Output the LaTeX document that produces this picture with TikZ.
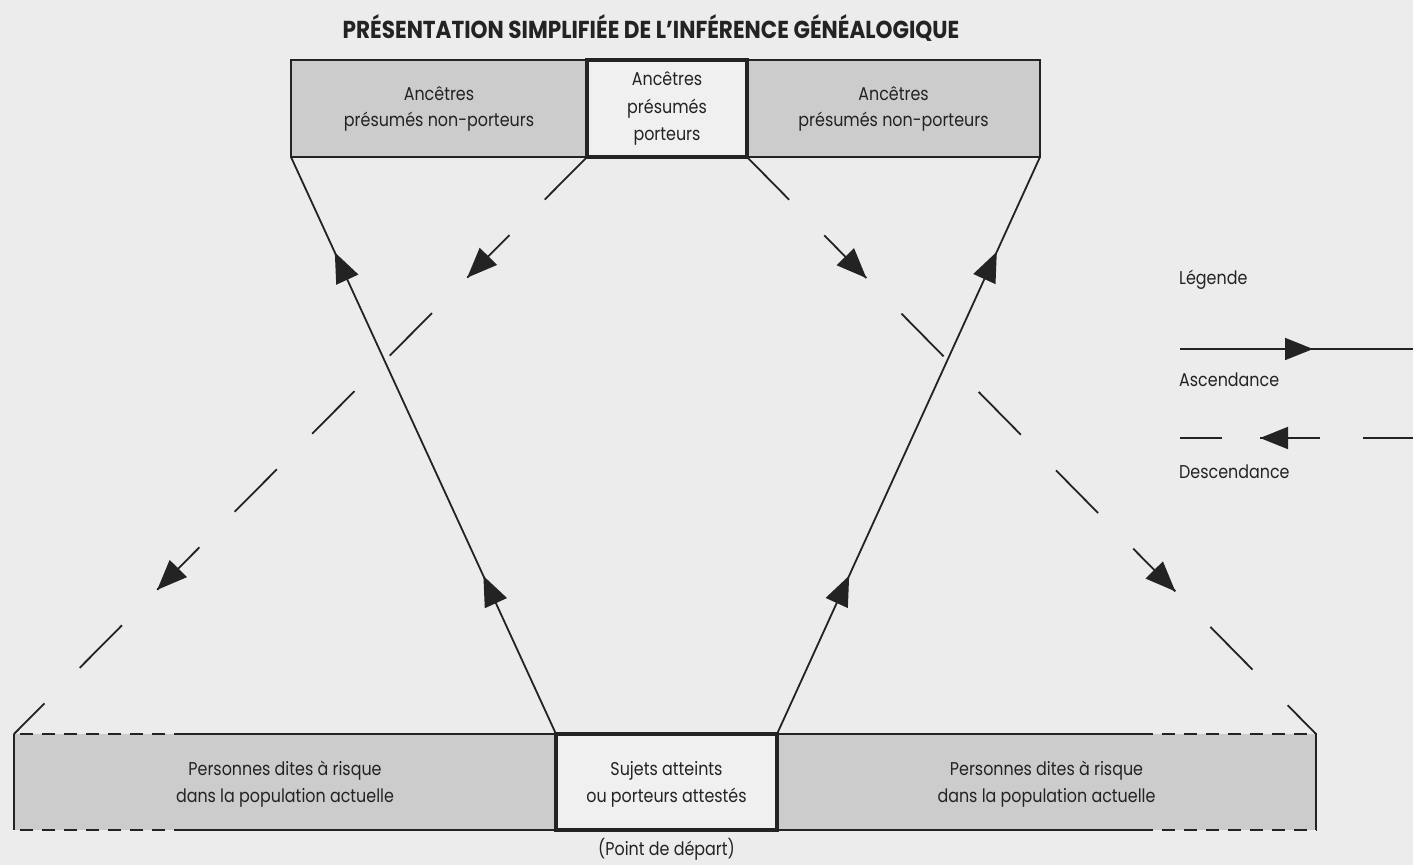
\documentclass[tikz,border=0pt]{standalone}
\usepackage{fontspec}
\setmainfont{Poppins}[FakeStretch=0.86]
\newfontfamily\titlefont{Poppins}[FakeStretch=0.88]
\usetikzlibrary{arrows.meta,decorations.markings,calc}
\definecolor{paper}{RGB}{236,236,236}
\definecolor{boxgray}{RGB}{204,204,204}
\definecolor{boxlight}{RGB}{240,240,240}
\definecolor{ink}{RGB}{35,35,35}
\tikzset{
  txt/.style={font=\fontsize{18.5}{26}\selectfont, text=ink, align=center, inner sep=0pt},
  graybox/.style={fill=boxgray, draw=none, outer sep=0pt, inner sep=0pt},
  keybox/.style={fill=boxlight, draw=ink, line width=3.5pt, outer sep=0pt, inner sep=0pt},
  edge/.style={draw=ink, line width=1.8pt},
  ascend/.style={edge, postaction={decorate}, decoration={markings,
     mark=at position 174pt with {\arrow{Triangle[length=30pt,width=24pt]}},
     mark=at position 530pt with {\arrow{Triangle[length=30pt,width=24pt]}}}},
  descend/.style={edge, dash pattern=on 60pt off 50pt, postaction={decorate, solid}, decoration={markings,
     mark=at position 170pt with {\arrow{Triangle[length=30pt,width=24pt]}},
     mark=at position 610pt with {\arrow{Triangle[length=30pt,width=24pt]}}}},
  boxdash/.style={edge, dash pattern=on 13pt off 9pt},
}
\begin{document}
\begin{tikzpicture}[x=1pt,y=-1pt]
\fill[paper] (0,0) rectangle (1413,865);
\useasboundingbox (0,0) rectangle (1413,865);

% title
\node[txt, font=\titlefont\fontsize{24.5}{28}\selectfont\bfseries] (title) at (651,28) {PRÉSENTATION SIMPLIFIÉE DE L’INFÉRENCE GÉNÉALOGIQUE};

% top row
\node[graybox, minimum width=296pt, minimum height=97pt] (tl) at (439,108.5) {};
\node[graybox, minimum width=293pt, minimum height=97pt] (tr) at (893.5,108.5) {};
\draw[edge] (tl.south east) -- (tl.south west) -- (tl.north west) -- (tl.north east);
\draw[edge] (tr.north west) -- (tr.north east) -- (tr.south east) -- (tr.south west);
\node[keybox, minimum width=160pt, minimum height=97pt] (tm) at (667,108.5) {};
\node[txt] (tltext) at (tl) {Ancêtres\\présumés non-porteurs};
\node[txt] (trtext) at (tr) {Ancêtres\\présumés non-porteurs};
\node[txt, font=\fontsize{18.5}{27.5}\selectfont] (tmtext) at (tm) {Ancêtres\\présumés\\porteurs};

% bottom row
\node[graybox, minimum width=542pt, minimum height=96pt] (bl) at (285,782) {};
\node[graybox, minimum width=539pt, minimum height=96pt] (br) at (1046.5,782) {};
\coordinate (blt) at ($(bl.north west)!0.32!(bl.north east)$);
\coordinate (blb) at ($(bl.south west)!0.32!(bl.south east)$);
\coordinate (brt) at ($(br.north west)!0.673!(br.north east)$);
\coordinate (brb) at ($(br.south west)!0.673!(br.south east)$);
\draw[boxdash] (blt) -- (bl.north west);
\draw[boxdash] (blb) -- (bl.south west);
\draw[edge] (bl.north west) -- (bl.south west);
\draw[edge] (blt) -- (bl.north east);
\draw[edge] (blb) -- (bl.south east);
\draw[boxdash] (brt) -- (br.north east);
\draw[boxdash] (brb) -- (br.south east);
\draw[edge] (br.north east) -- (br.south east);
\draw[edge] (br.north west) -- (brt);
\draw[edge] (br.south west) -- (brb);
\node[keybox, minimum width=221pt, minimum height=96pt] (bm) at (666.5,782) {};
\node[txt, font=\fontsize{18.5}{27}\selectfont] (bltext) at (285,784) {Personnes dites à risque\\dans la population actuelle};
\node[txt, font=\fontsize{18.5}{27}\selectfont] (brtext) at (1046.5,784) {Personnes dites à risque\\dans la population actuelle};
\node[txt, font=\fontsize{18.5}{27}\selectfont] (bmtext) at (666.5,784) {Sujets atteints\\ou porteurs attestés};
\node[txt] (start) at (666.5,849) {(Point de départ)};

% connectors
\draw[ascend] (bm.north west) -- (tl.south west);
\draw[ascend] (bm.north east) -- (tr.south east);
\draw[descend] (tm.south west) -- (bl.north west);
\draw[descend] (tm.south east) -- (br.north east);

% legend
\node[txt, anchor=west] (leg) at (1179,280) {Légende};
\coordinate (la1) at (1180,349);
\coordinate (la2) at (1413,349);
\draw[edge, postaction={decorate}, decoration={markings,
  mark=at position 133pt with {\arrow{Triangle[length=28pt,width=22pt]}}}] (la1) -- (la2);
\node[txt, anchor=west] (asc) at (1179,380) {Ascendance};
\coordinate (ld1) at (1413,438);
\coordinate (ld2) at (1180,438);
\draw[edge, dash pattern=on 50pt off 43pt on 60pt off 38pt on 42pt off 20pt,
  postaction={decorate, solid}, decoration={markings,
  mark=at position 153pt with {\arrow{Triangle[length=28pt,width=22pt]}}}] (ld1) -- (ld2);
\node[txt, anchor=west] (desc) at (1179,472) {Descendance};
\end{tikzpicture}
\end{document}
